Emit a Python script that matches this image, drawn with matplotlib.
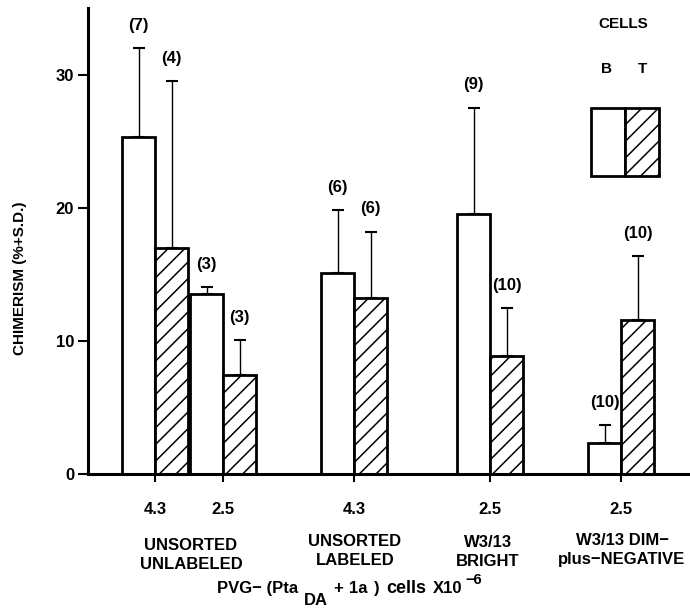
import matplotlib
matplotlib.use("Agg")
import matplotlib.pyplot as plt
from matplotlib.patches import Rectangle

plt.rcParams['font.family'] = ['Liberation Sans', 'DejaVu Sans']
plt.rcParams['font.weight'] = 'bold'
plt.rcParams['hatch.linewidth'] = 1.1

# ---- data ----
doses = ["4.3", "2.5", "4.3", "2.5", "2.5"]
group_labels = ["UNSORTED\nUNLABELED", "UNSORTED\nLABELED", "W3/13\nBRIGHT", "W3/13 DIM\u2212\nplus\u2212NEGATIVE"]
b_mean = [25.3, 13.5, 15.1, 19.5, 2.3]
b_sd = [6.7, 0.55, 4.7, 8.0, 1.35]
b_n = [7, 3, 6, 9, 10]
t_mean = [17.0, 7.4, 13.2, 8.9, 11.6]
t_sd = [12.5, 2.65, 5.0, 3.55, 4.75]
t_n = [4, 3, 6, 10, 10]

# ---- layout ----
W, H = 690, 608
AX_LEFT, AX_BOTTOM, AX_TOP = 88, 474, 8
positions = [67, 135, 266, 402, 533]
group_centers = [103, 267, 400, 534]
group_label_y_px = [555, 551, 552, 550]
width = 33

fig = plt.figure(figsize=(W/100, H/100), dpi=100)
ax = fig.add_axes([AX_LEFT/W, 1-AX_BOTTOM/H, 600/W, (AX_BOTTOM-AX_TOP)/H])
ax.set_xlim(0, 600)
ax.set_ylim(0, 35)
px_per_unit = (AX_BOTTOM - AX_TOP) / 35

bx = [p - width/2 for p in positions]
tx = [p + width/2 for p in positions]
ax.bar(bx, b_mean, width=width, facecolor='white', edgecolor='black', linewidth=2.0, zorder=2)
ax.bar(tx, t_mean, width=width, facecolor='white', edgecolor='black', linewidth=2.0,
       hatch='//', zorder=2)
ax.errorbar(bx, b_mean, yerr=[[0]*5, b_sd], fmt='none', ecolor='black', elinewidth=1.0,
            capsize=4.5, capthick=1.5, zorder=1)
ax.errorbar(tx, t_mean, yerr=[[0]*5, t_sd], fmt='none', ecolor='black', elinewidth=1.0,
            capsize=4.5, capthick=1.5, zorder=1)

for x, m, s, n in list(zip(bx, b_mean, b_sd, b_n)) + list(zip(tx, t_mean, t_sd, t_n)):
    ax.annotate(f"({n})", (x, m + s), xytext=(0, 16.5), textcoords='offset points',
                ha='center', va='center', fontsize=12, fontweight='bold')

for sp in ['top', 'right']:
    ax.spines[sp].set_visible(False)
for sp in ['left', 'bottom']:
    ax.spines[sp].set_linewidth(2.2)

ax.set_yticks([0, 10, 20, 30])
ax.set_yticklabels(["0", "10", "20", "30"], fontsize=12, fontweight='bold')
ax.tick_params(axis='y', direction='out', length=7, width=1.5, pad=3)
ax.set_xticks(positions)
ax.set_xticklabels(doses, fontsize=12, fontweight='bold')
ax.tick_params(axis='x', direction='out', length=6, width=1.5, pad=14)

for gx, gy, lab in zip(group_centers, group_label_y_px, group_labels):
    ax.text(gx, -(gy - AX_BOTTOM)/px_per_unit, lab, ha='center', va='center', fontsize=12,
            fontweight='bold', linespacing=1.38)

# x-axis title built from pieces (subscript / superscript)
baseline = 593  # px from top
pieces = [("PVG\u2212 (Pta", 217, 0, 12), ("DA", 304, -12, 12), ("+", 333, 0, 12),
          ("1a", 349, 0, 12), (")", 374, 0, 12), ("cells", 386, 0, 13),
          ("X10", 433, 0, 12), ("\u22126", 465, 9, 10.5)]
for s, xpos, dy, size in pieces:
    fig.text(xpos/W, (H - baseline + dy)/H, s, ha='left', va='baseline',
             fontsize=size, fontweight='bold')

fig.text(20/W, 1-278/H, "CHIMERISM (%+S.D.)", rotation=90, ha='center', va='center',
         fontsize=11, fontweight='bold')

# legend
ax.add_patch(Rectangle((503, 22.4), 34, 5.1, facecolor='white', edgecolor='black',
                       linewidth=2.0, clip_on=False))
ax.add_patch(Rectangle((537, 22.4), 34, 5.1, facecolor='white', edgecolor='black',
                       linewidth=2.0, hatch='//', clip_on=False))
ax.text(535, 33.8, "CELLS", ha='center', va='center', fontsize=11, fontweight='bold')
ax.text(519, 30.4, "B", ha='center', va='center', fontsize=11, fontweight='bold')
ax.text(554, 30.4, "T", ha='center', va='center', fontsize=11, fontweight='bold')

fig.savefig("out.png", dpi=100)
